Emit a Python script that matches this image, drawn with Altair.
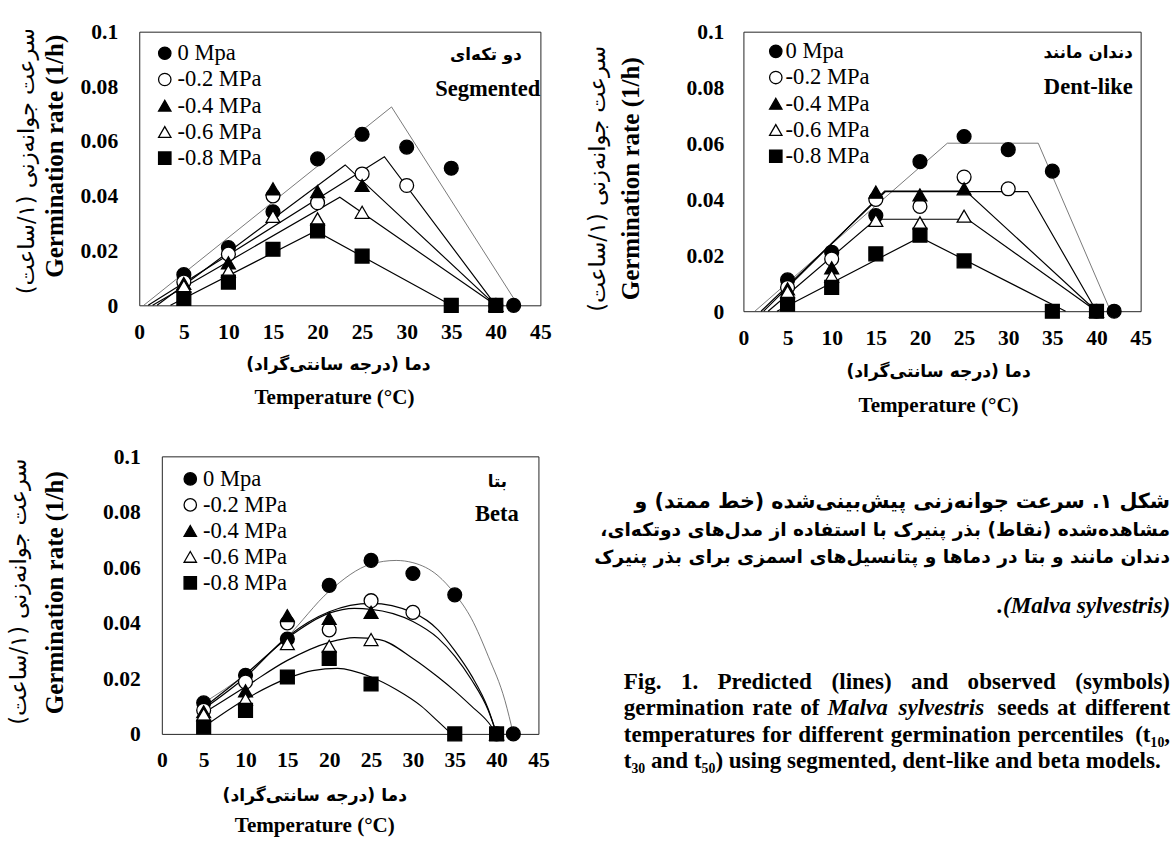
import altair as alt
import pandas as pd

SERIF = "Liberation Serif"
ARAB = "DejaVu Sans"
RLM = "\u200f"

SERIES = ["0 Mpa", "-0.2 MPa", "-0.4 MPa", "-0.6 MPa", "-0.8 MPa"]
SHAPES = ["circle", "circle", "triangle-up", "triangle-up", "square"]
FILLS = ["black", "white", "black", "white", "black"]
X_TICKS = [0, 5, 10, 15, 20, 25, 30, 35, 40, 45]
Y_TICKS = [0, 0.02, 0.04, 0.06, 0.08, 0.1]

# ---- observed germination rates (symbols) ----
obs_t_00 = [5, 10, 15, 20, 25, 30, 35, 42]
obs_r_00 = [0.0112, 0.0211, 0.0342, 0.0535, 0.0625, 0.0578, 0.0501, 0.0]
obs_t_02 = [5, 10, 15, 20, 25, 30, 40]
obs_r_02 = [0.0085, 0.0187, 0.0400, 0.0375, 0.0480, 0.0438, 0.0]
obs_t_04 = [5, 10, 15, 20, 25, 40]
obs_r_04 = [0.0080, 0.0155, 0.0426, 0.0416, 0.0438, 0.0]
obs_t_06 = [5, 10, 15, 20, 25, 40]
obs_r_06 = [0.0070, 0.0125, 0.0325, 0.0316, 0.0340, 0.0]
obs_t_08 = [5, 10, 15, 20, 25, 35, 40]
obs_r_08 = [0.0025, 0.0085, 0.0205, 0.0272, 0.0180, 0.0, 0.0]

# ---- segmented model (predicted lines) ----
seg_t_00 = [0.5, 28.3, 42.5]
seg_r_00 = [0.0, 0.0725, 0.0]
seg_t_02 = [1.0, 27.5, 40.0]
seg_r_02 = [0.0, 0.0543, 0.0]
seg_t_04 = [2.0, 23.1, 40.0]
seg_r_04 = [0.0, 0.0513, 0.0]
seg_t_06 = [1.5, 22.5, 40.0]
seg_r_06 = [0.0, 0.0395, 0.0]
seg_t_08 = [3.5, 19.8, 35.0]
seg_r_08 = [0.0, 0.0272, 0.0]

# ---- dent-like model ----
dent_t_00 = [1.3, 23.1, 33.4, 41.6]
dent_r_00 = [0.0, 0.0601, 0.0601, 0.0]
dent_t_02 = [2.0, 16.1, 32.2, 40.0]
dent_r_02 = [0.0, 0.0428, 0.0428, 0.0]
dent_t_04 = [2.3, 16.0, 25.2, 40.0]
dent_r_04 = [0.0, 0.0430, 0.0430, 0.0]
dent_t_06 = [2.8, 15.0, 25.4, 40.0]
dent_r_06 = [0.0, 0.0329, 0.0329, 0.0]
dent_t_08 = [3.8, 20.0, 36.5]
dent_r_08 = [0.0, 0.0265, 0.0]

# ---- beta model ----
beta_t_00 = [5, 10, 15, 20, 25, 28, 30, 33, 35, 37, 39, 41, 42]
beta_r_00 = [0.0112, 0.0215, 0.0350, 0.0514, 0.0612, 0.0625, 0.0617, 0.0570,
             0.0505, 0.0415, 0.0280, 0.0120, 0.0]
beta_t_02 = [5, 10, 15, 20, 25, 30, 33, 35, 37, 39, 40]
beta_r_02 = [0.0090, 0.0205, 0.0350, 0.0440, 0.0470, 0.0437, 0.0375, 0.0300,
             0.0210, 0.0090, 0.0]
beta_t_04 = [5, 10, 15, 20, 23, 25, 30, 33, 35, 37, 39, 40]
beta_r_04 = [0.0095, 0.0215, 0.0345, 0.0435, 0.0452, 0.0449, 0.0405, 0.0345,
             0.0280, 0.0195, 0.0085, 0.0]
beta_t_06 = [5, 10, 15, 20, 23, 26, 30, 33, 35, 37, 39, 40]
beta_r_06 = [0.0075, 0.0170, 0.0265, 0.0330, 0.0347, 0.0340, 0.0272, 0.0205,
             0.0155, 0.0100, 0.0042, 0.0]
beta_t_08 = [5, 10, 15, 18, 21, 25, 28, 31, 33, 34.6]
beta_r_08 = [0.0025, 0.0125, 0.0200, 0.0228, 0.0236, 0.0205, 0.0160, 0.0100,
             0.0045, 0.0]

# ---- texts ----
Y_TITLE_FA = RLM + "سرعت جوانه\u200cزنی (۱/ساعت)" + RLM
Y_TITLE_EN = "Germination rate (1/h)"
X_TITLE_FA = RLM + "دما (درجه سانتی\u200cگراد)" + RLM
X_TITLE_EN = "Temperature (°C)"
ANN_FA = [RLM + "دو تکه\u200cای" + RLM, RLM + "دندان مانند" + RLM, RLM + "بتا" + RLM]
ANN_EN = ["Segmented", "Dent-like", "Beta"]

CAP_FA = [
    RLM + "شکل ۱. سرعت جوانه\u200cزنی پیش\u200cبینی\u200cشده (خط ممتد) و" + RLM,
    RLM + "مشاهده\u200cشده (نقاط) بذر پنیرک با استفاده از مدل\u200cهای دوتکه\u200cای،" + RLM,
    RLM + "دندان مانند و بتا در دماها و پتانسیل\u200cهای اسمزی برای بذر پنیرک" + RLM,
]
CAP_FA_LATIN = ".(Malva sylvestris)"
CAP_EN_1 = ["Fig.", "1.", "Predicted", "(lines)", "and", "observed", "(symbols)"]
CAP_EN_2 = ["germination", "rate", "of", "Malva", "sylvestris", "seeds", "at", "different"]
CAP_EN_2_ITALIC = ["Malva", "sylvestris"]
CAP_EN_3 = ["temperatures", "for", "different", "germination", "percentiles", "(t₁₀,"]
CAP_EN_4 = "t₃₀ and t₅₀) using segmented, dent-like and beta models."


def table(ts, rs):
    rows = []
    for name, tl, rl in zip(SERIES, ts, rs):
        for t, r in zip(tl, rl):
            rows.append({"series": name, "T": t, "R": r})
    return pd.DataFrame(rows)


obs = table([obs_t_00, obs_t_02, obs_t_04, obs_t_06, obs_t_08],
            [obs_r_00, obs_r_02, obs_r_04, obs_r_06, obs_r_08])
seg = table([seg_t_00, seg_t_02, seg_t_04, seg_t_06, seg_t_08],
            [seg_r_00, seg_r_02, seg_r_04, seg_r_06, seg_r_08])
dent = table([dent_t_00, dent_t_02, dent_t_04, dent_t_06, dent_t_08],
             [dent_r_00, dent_r_02, dent_r_04, dent_r_06, dent_r_08])
beta = table([beta_t_00, beta_t_02, beta_t_04, beta_t_06, beta_t_08],
             [beta_r_00, beta_r_02, beta_r_04, beta_r_06, beta_r_08])
leg_df = pd.DataFrame({"series": SERIES})

ONE = alt.Data(values=[{}])


def txt(text, x, y, font, size, weight="normal", align="center", angle=None,
        italic=False):
    props = dict(text=text, font=font, fontSize=size, fontWeight=weight,
                 align=align, baseline="middle", color="black")
    if angle is not None:
        props["angle"] = angle
    if italic:
        props["fontStyle"] = "italic"
    return alt.Chart(ONE).mark_text(**props).encode(x=alt.value(x), y=alt.value(y))


def anchor(x1, y1, x2, y2):
    # invisible rule that fixes the cell's extent in the page grid
    return (alt.Chart(ONE).mark_rule(strokeOpacity=0)
            .encode(x=alt.value(x1), y=alt.value(y1), x2=alt.value(x2), y2=alt.value(y2)))


SHAPE_SCALE = alt.Scale(domain=SERIES, range=SHAPES)
FILL_SCALE = alt.Scale(domain=SERIES, range=FILLS)


def panel(lines, interp, w, h, ypad, xpad, leg, idx, pos, box):
    xenc = alt.X("T:Q", scale=alt.Scale(domain=[0, 45], nice=False, zero=False),
                 axis=alt.Axis(values=X_TICKS, title=None, ticks=False, domain=False,
                               grid=False, labelPadding=xpad, labelFont=SERIF,
                               labelFontSize=22, labelFontWeight="bold",
                               labelColor="black", labelAngle=0, labelFlush=False,
                               labelOverlap=False))
    yenc = alt.Y("R:Q", scale=alt.Scale(domain=[0, 0.1], nice=False, zero=False),
                 axis=alt.Axis(values=Y_TICKS, format="~g", title=None, ticks=False,
                               domain=False, grid=False, labelPadding=ypad,
                               labelFont=SERIF, labelFontSize=22,
                               labelFontWeight="bold", labelColor="black",
                               labelFlush=False, labelOverlap=False))
    l0 = (alt.Chart(lines).transform_filter(alt.datum.series == SERIES[0])
          .mark_line(interpolate=interp, color="#555555", strokeWidth=0.8)
          .encode(x=xenc, y=yenc, detail="series:N"))
    l1 = (alt.Chart(lines).transform_filter(alt.datum.series != SERIES[0])
          .mark_line(interpolate=interp, color="black", strokeWidth=1.2)
          .encode(x=xenc, y=yenc, detail="series:N"))
    pts = (alt.Chart(obs).mark_point(filled=True, size=200, stroke="black",
                                      strokeWidth=1.3, opacity=1)
           .encode(x=xenc, y=yenc,
                   shape=alt.Shape("series:N", scale=SHAPE_SCALE, legend=None),
                   fill=alt.Fill("series:N", scale=FILL_SCALE, legend=None)))
    texts = [
        txt(Y_TITLE_FA, pos["yfa"][0], pos["yfa"][1], ARAB, 23, angle=270),
        txt(Y_TITLE_EN, pos["yen"][0], pos["yen"][1], SERIF, 25.5, "bold", angle=270),
        txt(X_TITLE_FA, pos["xfa"][0], pos["xfa"][1], ARAB, 17.5, "bold"),
        txt(X_TITLE_EN, pos["xen"][0], pos["xen"][1], SERIF, 21.5, "bold"),
        txt(ANN_FA[idx], pos["afa"][0], pos["afa"][1], ARAB, 17, "bold", align="right"),
        txt(ANN_EN[idx], pos["aen"][0], pos["aen"][1], SERIF, 23, "bold", align="right"),
    ]
    main = alt.layer(l0, l1, pts, *texts, anchor(*box))
    # legend drawn inside the plot, rows placed by a point scale
    ly = alt.Y("series:N", scale=alt.Scale(domain=SERIES, range=[leg[2], leg[3]], padding=0),
               axis=None)
    sym = (alt.Chart(leg_df).mark_point(filled=True, size=160, stroke="black",
                                         strokeWidth=1.3, opacity=1)
           .encode(x=alt.value(leg[0]), y=ly,
                   shape=alt.Shape("series:N", scale=SHAPE_SCALE, legend=None),
                   fill=alt.Fill("series:N", scale=FILL_SCALE, legend=None)))
    lab = (alt.Chart(leg_df).mark_text(align="left", baseline="middle", font=SERIF,
                                        fontSize=23, color="black")
           .encode(x=alt.value(leg[1]), y=ly, text="series:N"))
    return (alt.layer(main, sym, lab).resolve_scale(y="independent")
            .properties(width=w, height=h,
                        view=alt.ViewBackground(stroke="#222222", strokeWidth=1)))


# Page grid (3 columns, no alignment): a 1px spacer column, then the left
# panels, then the right cells.  Anchors fix each cell's extent around its plot.
RIGHT = 439          # common right extent of the left panels (from their origin)
p1 = panel(seg, "linear", 409, 279, 22, 17, (26, 39, 22, 129), 0,
           dict(yfa=(-114, 132), yen=(-86, 127), xfa=(203, 340), xen=(199, 374),
                afa=(390, 24), aen=(409, 59)),
           (-140, -23, RIGHT, 397))
p2 = panel(dent, "linear", 405, 285, 20, 17, (33, 43, 20, 127), 1,
           dict(yfa=(-148, 150), yen=(-114, 150), xfa=(199, 347), xen=(199, 382),
                afa=(397, 22), aen=(397, 57)),
           (-175, -23, 1173 - 755, 397))
p3 = panel(beta, "monotone", 384, 283, 22, 16, (29, 42, 23, 129), 2,
           dict(yfa=(-146, 138), yen=(-109, 139), xfa=(156, 346), xen=(156, 377),
                afa=(352, 26), aen=(364, 59)),
           (-163, -34, RIGHT, 843 - 454))

# ---- caption (cell origin at page x=CX, y=CY) ----
CAP_LEFT = 30
CX, CY = 164 + RIGHT + CAP_LEFT, 420
W_BOLD = {" ": 250, "(": 333, ")": 333, ",": 250, "-": 333, ".": 250, "/": 278,
          "F": 611, "M": 944, "P": 611, "T": 667}
W_LOWER = dict(zip("abcdefghijklmnopqrstuvwxyz",
                   [500, 556, 444, 556, 444, 333, 500, 556, 278, 333, 556, 278, 833,
                    556, 500, 556, 556, 444, 389, 333, 556, 500, 722, 500, 500, 444]))
W_BOLD.update(W_LOWER)


def text_width(s, size):
    tot = 0
    for ch in s:
        if ch.isdigit() and ch.isascii():
            tot += 500
        elif ch in W_BOLD:
            tot += W_BOLD[ch]
        else:
            tot += 400
    return tot * size / 1000.0


def justified(words, y, x0, x1, size, italic_words=()):
    widths = [text_width(wd, size) for wd in words]
    gap = (x1 - x0 - sum(widths)) / (len(words) - 1)
    out = []
    x = x0
    for k, wd in enumerate(words):
        last = k == len(words) - 1
        out.append(txt(wd, (x1 if last else x) - CX, y - CY, SERIF, size, "bold",
                       align="right" if last else "left", italic=wd in italic_words))
        x += widths[k] + gap
    return out


EN_ROWS = [685, 712, 739, 766]
cap_layers = [anchor(-CAP_LEFT, 0, 1173 - CX, 843 - CY)]
for line, yy, size in zip(CAP_FA, [502, 530, 558], [21, 19, 19]):
    cap_layers.append(txt(line, 1170 - CX, yy - CY, ARAB, size, "bold", align="right"))
cap_layers.append(txt(CAP_FA_LATIN, 1170 - CX, 608 - CY, SERIF, 23.5, "bold",
                      align="right", italic=True))
cap_layers += justified(CAP_EN_1, EN_ROWS[0], 613, 1170, 23.5)
cap_layers += justified(CAP_EN_2, EN_ROWS[1], 613, 1170, 23.5, CAP_EN_2_ITALIC)
cap_layers += justified(CAP_EN_3, EN_ROWS[2], 613, 1170, 23.5)
cap_layers.append(txt(CAP_EN_4, 613 - CX, EN_ROWS[3] - CY, SERIF, 23.5, "bold",
                      align="left"))
caption = alt.layer(*cap_layers).properties(
    width=1173 - CX, height=843 - CY, view=alt.ViewBackground(strokeWidth=0))


def spacer():
    return (alt.Chart(ONE).mark_rule(strokeOpacity=0)
            .encode(x=alt.value(0), y=alt.value(0), x2=alt.value(1), y2=alt.value(1))
            .properties(width=1, height=1, view=alt.ViewBackground(strokeWidth=0)))


chart = alt.concat(
    spacer(), p1, p2,
    spacer(), p3, caption,
    columns=3, spacing=0, align="none",
).properties(padding=0, background="white").configure_view(strokeWidth=0)

chart.save("out.html", embed_options={"renderer": "svg", "actions": False})
